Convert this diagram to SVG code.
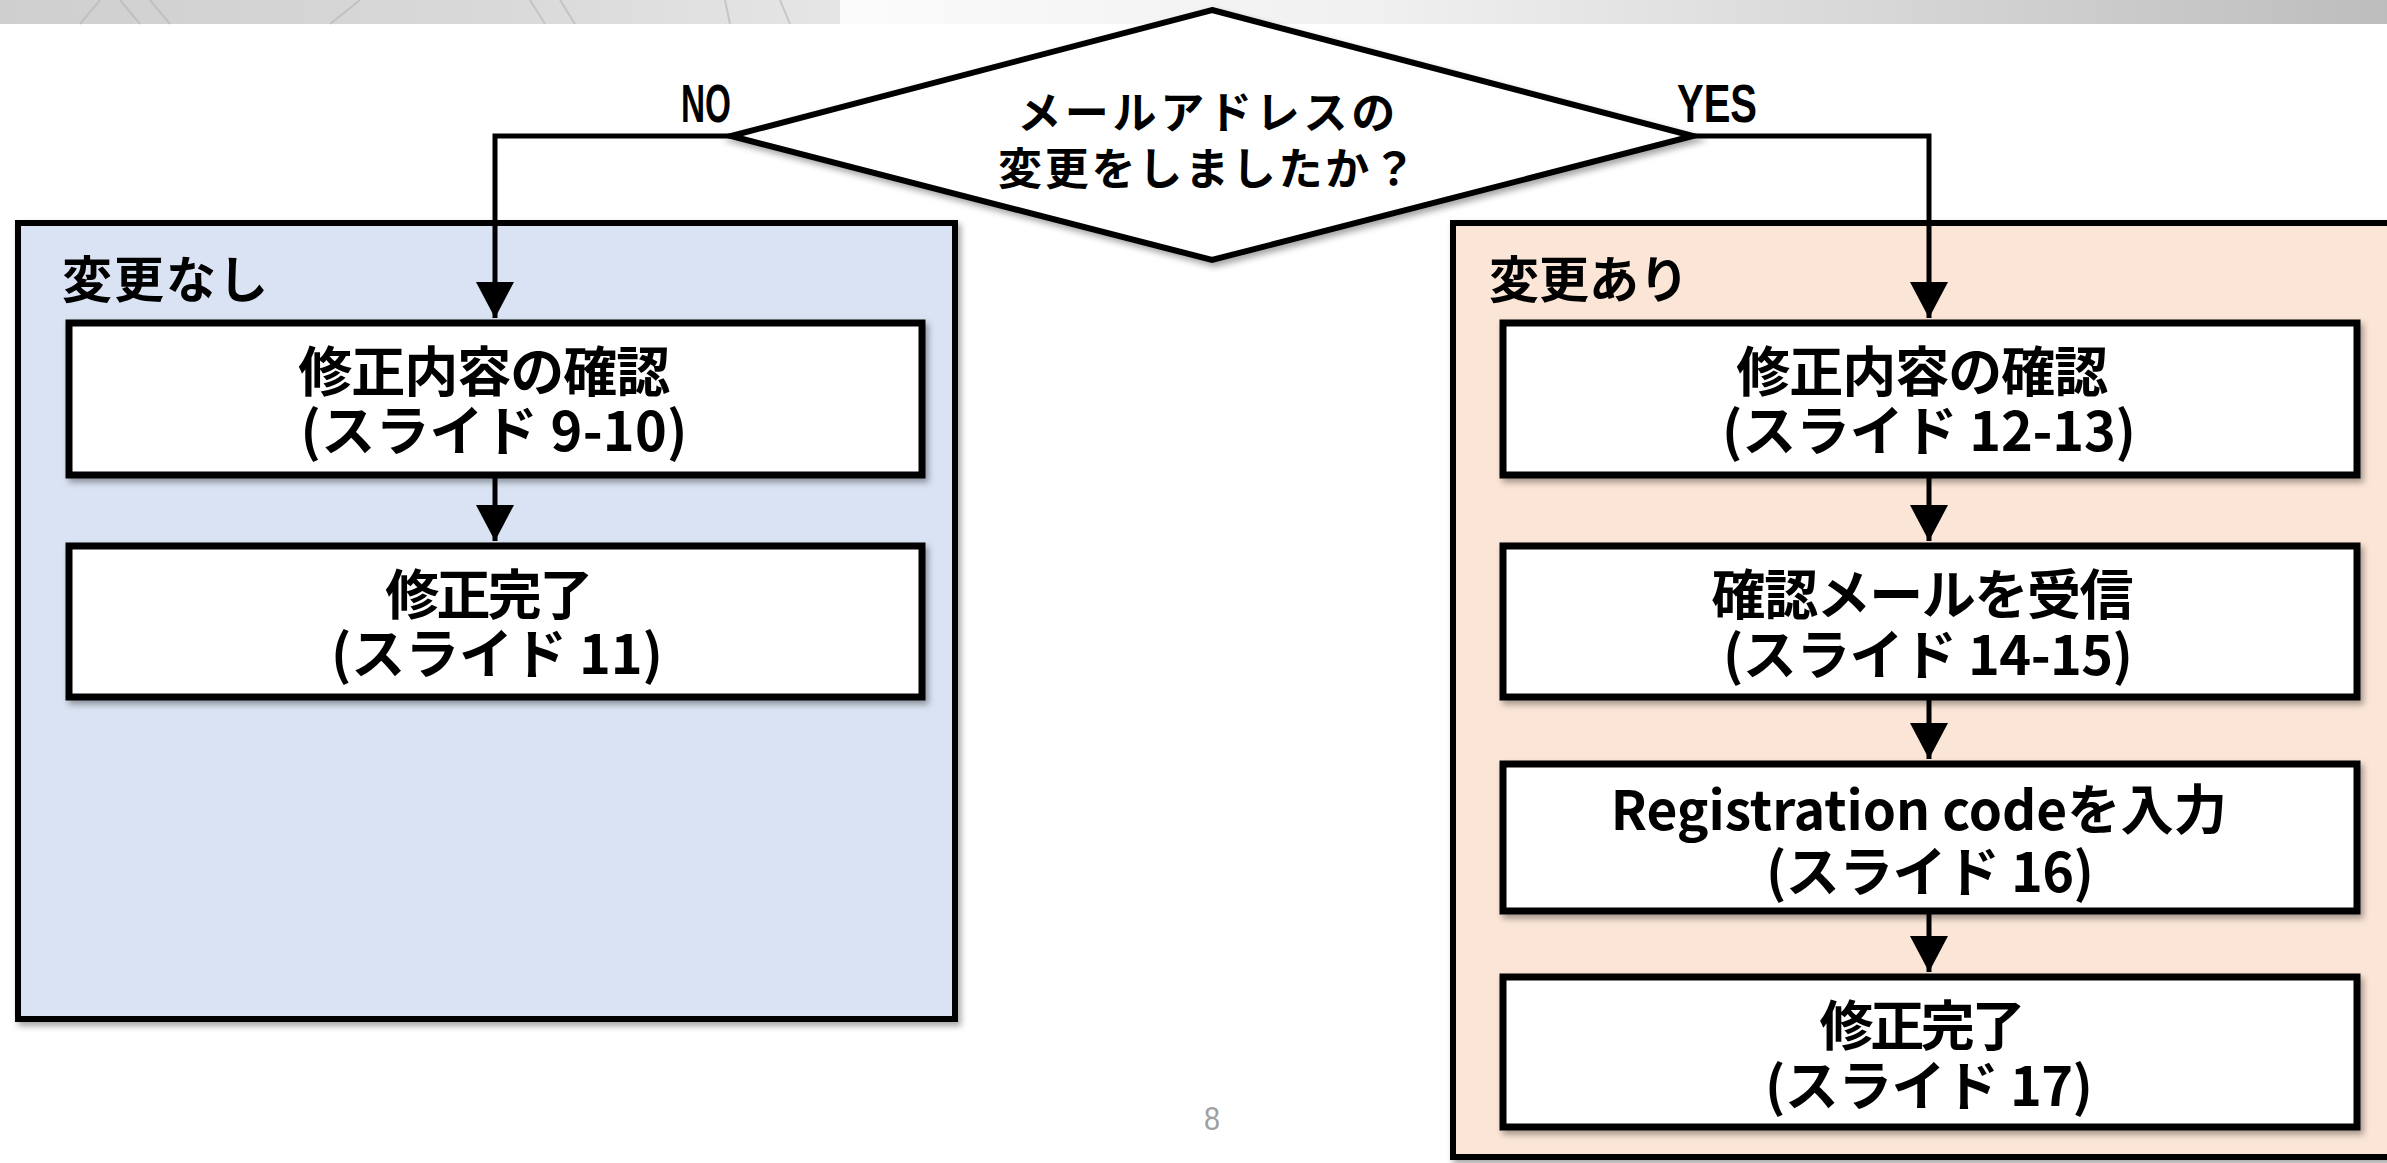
<svg xmlns="http://www.w3.org/2000/svg" width="2387" height="1163" viewBox="0 0 2387 1163">
  <defs>
    <style>
      .txt { font-family: "Noto Sans CJK JP", "Noto Sans", sans-serif; font-weight: 700; fill: #000; }
      .box { fill: #ffffff; stroke: #000; stroke-width: 7; }
      .blue { fill: #DAE3F3; stroke: #000; stroke-width: 6; }
      .orange { fill: #FBE5D6; stroke: #000; stroke-width: 6; }
      .conn { fill: none; stroke: #000; stroke-width: 5; marker-end: url(#arrow); }
      .lbl { font-family: "Liberation Sans", Arial, sans-serif; font-weight: 700; fill: #000; }
    </style>
    <marker id="arrow" markerUnits="userSpaceOnUse" markerWidth="38" markerHeight="38" refX="36" refY="19" orient="auto">
      <path d="M0,0 L36,19 L0,38 z" fill="#000"/>
    </marker>
    <filter id="shadow" x="-5%" y="-5%" width="115%" height="120%">
      <feDropShadow dx="3" dy="4" stdDeviation="3" flood-color="#000" flood-opacity="0.35"/>
    </filter>
    <linearGradient id="bannerR" x1="0" y1="0" x2="1" y2="0">
      <stop offset="0" stop-color="#fbfbfb"/>
      <stop offset="0.35" stop-color="#f0f0f0"/>
      <stop offset="1" stop-color="#bdbdbd"/>
    </linearGradient>
    <linearGradient id="bannerL" x1="0" y1="0" x2="1" y2="0">
      <stop offset="0" stop-color="#cfcfcf"/>
      <stop offset="0.6" stop-color="#d9d9d9"/>
      <stop offset="1" stop-color="#e6e6e6"/>
    </linearGradient>
  </defs>

  <rect x="0" y="0" width="2387" height="1163" fill="#ffffff"/>

  <g id="banner">
    <rect x="0" y="0" width="840" height="24" fill="url(#bannerL)"/>
    <rect x="840" y="0" width="1547" height="24" fill="url(#bannerR)"/>
    <g stroke="#b5b5b5" stroke-width="2" opacity="0.6">
      <line x1="80" y1="24" x2="100" y2="0"/>
      <line x1="140" y1="24" x2="120" y2="0"/>
      <line x1="170" y1="24" x2="150" y2="0"/>
      <line x1="330" y1="24" x2="360" y2="0"/>
      <line x1="545" y1="24" x2="530" y2="0"/>
      <line x1="575" y1="24" x2="560" y2="0"/>
      <line x1="730" y1="24" x2="725" y2="0"/>
      <line x1="790" y1="24" x2="780" y2="0"/>
    </g>
  </g>

  <g id="group-no-change">
    <rect class="blue" x="18" y="223" width="937" height="796" filter="url(#shadow)"/>
    <text class="txt" x="62" y="298" font-size="50" textLength="206">変更なし</text>
  </g>

  <g id="group-change">
    <rect class="orange" x="1453" y="223" width="960" height="934" filter="url(#shadow)"/>
    <text class="txt" x="1489" y="298" font-size="50" textLength="200">変更あり</text>
  </g>

  <g id="decision">
    <polygon points="1212,10 1693,136 1212,260 731,136" fill="#ffffff" stroke="#000" stroke-width="6" stroke-linejoin="miter" filter="url(#shadow)"/>
    <text class="txt" font-size="44" text-anchor="middle">
      <tspan x="1213" y="129" textLength="378">メールアドレスの</tspan>
      <tspan x="1207" y="185" textLength="418">変更をしましたか？</tspan>
    </text>
  </g>

  <g id="connectors">
    <path class="conn" d="M731,136 H495 V318"/>
    <path class="conn" d="M1693,136 H1929 V318"/>
    <path class="conn" d="M495,478 V541"/>
    <path class="conn" d="M1929,478 V541"/>
    <path class="conn" d="M1929,700 V759"/>
    <path class="conn" d="M1929,914 V972"/>
    <text class="lbl" x="681" y="122" font-size="54" textLength="50" lengthAdjust="spacingAndGlyphs">NO</text>
    <text class="lbl" x="1677" y="122" font-size="54" textLength="80" lengthAdjust="spacingAndGlyphs">YES</text>
  </g>

  <g id="node-L1">
    <rect class="box" x="69" y="323" width="853" height="152" filter="url(#shadow)"/>
    <text class="txt" font-size="54" text-anchor="middle">
      <tspan x="490" y="392" textLength="372">修正内容の確認</tspan>
      <tspan x="494" y="451" textLength="387">(スライド 9-10)</tspan>
    </text>
  </g>

  <g id="node-L2">
    <rect class="box" x="69" y="546" width="853" height="151" filter="url(#shadow)"/>
    <text class="txt" font-size="54" text-anchor="middle">
      <tspan x="494" y="615" textLength="208">修正完了</tspan>
      <tspan x="497" y="674" textLength="332">(スライド 11)</tspan>
    </text>
  </g>

  <g id="node-R1">
    <rect class="box" x="1503" y="323" width="854" height="152" filter="url(#shadow)"/>
    <text class="txt" font-size="54" text-anchor="middle">
      <tspan x="1928" y="392" textLength="372">修正内容の確認</tspan>
      <tspan x="1929" y="451" textLength="414">(スライド 12-13)</tspan>
    </text>
  </g>

  <g id="node-R2">
    <rect class="box" x="1503" y="546" width="854" height="151" filter="url(#shadow)"/>
    <text class="txt" font-size="54" text-anchor="middle">
      <tspan x="1928" y="615" textLength="422">確認メールを受信</tspan>
      <tspan x="1928" y="675" textLength="410">(スライド 14-15)</tspan>
    </text>
  </g>

  <g id="node-R3">
    <rect class="box" x="1503" y="764" width="854" height="147" filter="url(#shadow)"/>
    <text class="txt" font-size="54" text-anchor="middle">
      <tspan x="1925" y="830" textLength="616" lengthAdjust="spacingAndGlyphs">Registration codeを入力</tspan>
      <tspan x="1930" y="892" textLength="328">(スライド 16)</tspan>
    </text>
  </g>

  <g id="node-R4">
    <rect class="box" x="1503" y="977" width="854" height="150" filter="url(#shadow)"/>
    <text class="txt" font-size="54" text-anchor="middle">
      <tspan x="1927" y="1046" textLength="206">修正完了</tspan>
      <tspan x="1929" y="1106" textLength="328">(スライド 17)</tspan>
    </text>
  </g>

  <text x="1212" y="1130" font-family="Liberation Sans, Arial, sans-serif" font-size="34" fill="#a0a0a0" text-anchor="middle" textLength="16" lengthAdjust="spacingAndGlyphs">8</text>
</svg>
